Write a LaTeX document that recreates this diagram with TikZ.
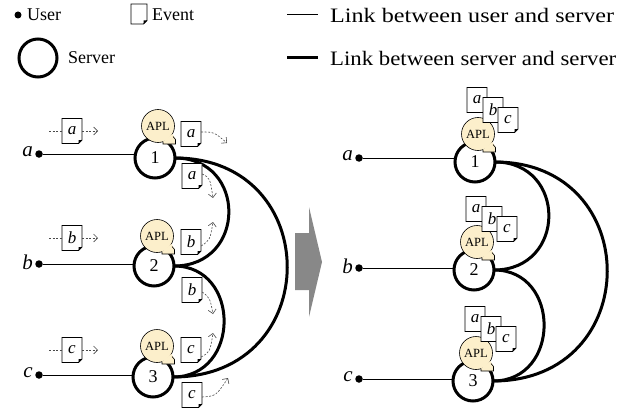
\documentclass[tikz,border=0pt]{standalone}
\usepackage{fontspec}
\usepackage{graphicx}
\setmainfont{Liberation Serif}
\usetikzlibrary{arrows.meta,calc}
\definecolor{aplfill}{HTML}{FCEFCB}
\definecolor{arrowgrey}{HTML}{888888}
\definecolor{flowgrey}{HTML}{4A4A4A}

\tikzset{
  x=1pt, y=-1pt,
  srv/.style={circle, draw, line width=3pt, minimum size=40pt, inner sep=0pt, fill=white,
    font=\fontsize{18}{18}\selectfont},
  usr/.style={circle, fill, minimum size=7.5pt, inner sep=0pt},
  aplc/.style={circle, draw, line width=0.6pt, fill=aplfill, minimum size=33pt, inner sep=0pt,
    font=\fontsize{12.5}{12.5}\selectfont},
  evt/.style={inner sep=0pt, font=\fontsize{17}{17}\selectfont\itshape},
  docline/.style={fill=white, line width=0.8pt},
  ulink/.style={line width=1pt},
  slink/.style={line width=3pt},
  flowline/.style={dash pattern=on 2pt off 1.5pt, line width=0.6pt, draw=flowgrey},
  flow/.style={flowline, -{Straight Barb[length=4pt,width=8pt,line width=0.6pt]}},
  ulabel/.style={font=\fontsize{21}{21}\selectfont\itshape, inner sep=0pt, anchor=east},
  legtext/.style={font=\fontsize{18}{18}\selectfont, inner sep=0pt, anchor=west},
  linktext/.style={font=\fontsize{20.5}{20.5}\selectfont, inner sep=0pt, anchor=west},
}

% event document: name, x, y, width, height, letter
\newcommand\evdoc[6]{%
  \filldraw[docline] (#2-#4/2,#3-#5/2) -- (#2+#4/2,#3-#5/2) -- (#2+#4/2,#3+#5/2-3.5)
    -- (#2+#4/2-3.5,#3+#5/2) -- (#2-#4/2,#3+#5/2) -- cycle;
  \fill (#2+#4/2,#3+#5/2-3.5) -- (#2+#4/2-3.5,#3+#5/2) -- (#2+#4/2-3.5,#3+#5/2-3.5) -- cycle;
  \node[evt, minimum width=#4pt, minimum height=#5pt] (#1) at (#2,#3) {#6};
}

% application bubble with its small tab: name, x, y
\newcommand\aplbubble[3]{%
  \node[aplc] (#1) at (#2,#3) {APL};
  \fill[aplfill] (#2+5,#3+15.5) -- (#2+5,#3+18) -- (#2+17.5,#3+18) -- (#2+17.5,#3+13) -- (#2+14.5,#3+8) -- cycle;
  \draw[line width=0.6pt] (#2+5,#3+15.7) -- (#2+5,#3+18) -- (#2+17.5,#3+18) -- (#2+17.5,#3+13.5) -- (#2+15,#3+10.5);
}

\begin{document}
\begin{tikzpicture}
\useasboundingbox (0,0) rectangle (643,412);

% ---------- legend ----------
\node[usr, minimum size=7pt] (lgu) at (18,15) {};
\node[legtext] (lgut) at (27,15) {User};
\evdoc{lgev}{139}{14}{16}{20}{}
\node[legtext] (lgevt) at (152,15) {Event};
\coordinate (lga) at (287,15);
\coordinate (lgb) at (318,15);
\draw[ulink] (lga) -- (lgb);
\node[linktext] (lgl1) at (330,15) {\resizebox{284pt}{\height}{Link between user and server}};
\node[srv, minimum size=38pt] (lgs) at (38,58) {};
\node[legtext] (lgst) at (68,58) {Server};
\coordinate (lgc) at (287,58);
\coordinate (lgd) at (318,58);
\draw[slink] (lgc) -- (lgd);
\node[linktext] (lgl2) at (330,58) {\resizebox{286pt}{\height}{Link between server and server}};

% ---------- left: events travelling ----------
% server-to-server links
\coordinate (Lq1) at (175,158);
\coordinate (Lq2) at (174,266);
\coordinate (Lq3) at (173,377);
\draw[slink] (Lq1) .. controls (325,158) and (325,377) .. (Lq3);
\draw[slink] (Lq1) .. controls (247,158) and (247,266) .. (Lq2);
\draw[slink] (Lq2) .. controls (241,266) and (241,377) .. (Lq3);

% users and their links
\node[usr] (ua) at (39,154) {};
\node[usr] (ub) at (39,264) {};
\node[usr] (uc) at (39,375) {};
\node[ulabel] at (33,152) {a};
\node[ulabel] at (33,262) {b};
\node[ulabel] at (33,373) {c};

\node[srv] (s1) at (155,158) {1};
\node[srv] (s2) at (154,266) {2};
\node[srv] (s3) at (153,377) {3};
\draw[ulink] (ua) -- (ua -| s1.west);
\draw[ulink] (ub) -- (ub -| s2.west);
\draw[ulink] (uc) -- (uc -| s3.west);

\aplbubble{ap1}{158}{126}
\aplbubble{ap2}{157}{236}
\aplbubble{ap3}{157}{346}

% events sent by the users
\evdoc{eua}{72}{131}{20}{25}{a}
\evdoc{eub}{72}{238}{20}{25}{b}
\evdoc{euc}{72}{350}{20}{25}{c}
\coordinate (ia) at (49,131);  \coordinate (oa) at (98,131);
\coordinate (ib) at (49,238);  \coordinate (ob) at (98,238);
\coordinate (ic) at (49,350);  \coordinate (oc) at (98,350);
\draw[flowline] (ia) -- (eua.west);  \draw[flow] (eua.east) -- (oa);
\draw[flowline] (ib) -- (eub.west);  \draw[flow] (eub.east) -- (ob);
\draw[flowline] (ic) -- (euc.west);  \draw[flow] (euc.east) -- (oc);

% events delivered by the applications
\evdoc{era}{191}{134}{20}{25}{a}
\evdoc{erb}{191}{242}{20}{25}{b}
\evdoc{erc}{191}{350}{20}{25}{c}
\evdoc{eba}{192}{176}{20}{25}{a}
\evdoc{ebb}{192}{290}{20}{25}{b}
\evdoc{ebc}{192}{395}{20}{25}{c}

\coordinate (ta) at (227,143);
\coordinate (tb) at (213,222);
\coordinate (tc) at (213,333);
\coordinate (da) at (213,198);
\coordinate (db) at (213,314);
\coordinate (dc) at (228,378);
\draw[flow] ([yshift=2pt]era.east) .. controls (214,132) .. (ta);
\draw[flow] ([yshift=-4pt]erb.east) .. controls (210,240) .. (tb);
\draw[flow] ([yshift=-7pt]erc.east) .. controls (210,352) .. (tc);
\draw[flow] ([yshift=2pt]eba.east) .. controls (210,178) .. (da);
\draw[flow] ([yshift=-2pt]ebb.east) .. controls (210,298) .. (db);
\draw[flow] ([yshift=-2pt]ebc.east) .. controls (216,396) .. (dc);

% ---------- transition arrow ----------
\fill[arrowgrey] (295,233) -- (309,233) -- (309,207) -- (322,262) -- (309,317) -- (309,290) -- (295,290) -- cycle;

% ---------- right: every server holds all events ----------
\coordinate (Rq1) at (495,162);
\coordinate (Rq2) at (494,270);
\coordinate (Rq3) at (493,381);
\draw[slink] (Rq1) .. controls (645,162) and (645,381) .. (Rq3);
\draw[slink] (Rq1) .. controls (567,162) and (567,270) .. (Rq2);
\draw[slink] (Rq2) .. controls (561,270) and (561,381) .. (Rq3);

\node[usr] (va) at (359,158) {};
\node[usr] (vb) at (359,268) {};
\node[usr] (vc) at (359,379) {};
\node[ulabel] at (353,156) {a};
\node[ulabel] at (353,266) {b};
\node[ulabel] at (353,377) {c};

\node[srv] (r1) at (475,162) {1};
\node[srv] (r2) at (474,270) {2};
\node[srv] (r3) at (473,381) {3};
\draw[ulink] (va) -- (va -| r1.west);
\draw[ulink] (vb) -- (vb -| r2.west);
\draw[ulink] (vc) -- (vc -| r3.west);

\aplbubble{bp1}{478}{134}
\aplbubble{bp2}{477}{242}
\aplbubble{bp3}{476}{353}

\evdoc{f1a}{477}{100}{20}{25}{a}
\evdoc{f1b}{493}{110}{20}{25}{b}
\evdoc{f1c}{508}{120}{20}{25}{c}
\evdoc{f2a}{476}{209}{20}{25}{a}
\evdoc{f2b}{492}{219}{20}{25}{b}
\evdoc{f2c}{507}{229}{20}{25}{c}
\evdoc{f3a}{475}{319}{20}{25}{a}
\evdoc{f3b}{491}{329}{20}{25}{b}
\evdoc{f3c}{506}{339}{20}{25}{c}
\end{tikzpicture}
\end{document}
